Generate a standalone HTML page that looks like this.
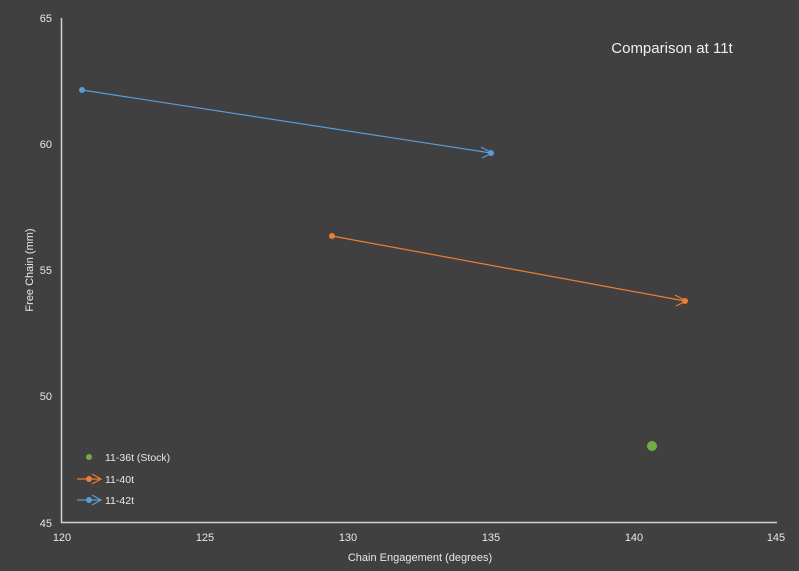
<!DOCTYPE html>
<html><head><style>body{margin:0;background:#404040}</style></head><body>
<svg width="799" height="571" viewBox="0 0 799 571" xmlns="http://www.w3.org/2000/svg" style="display:block;font-family:'Liberation Sans',sans-serif">
<rect width="799" height="571" fill="#404040"/>
<line x1="61.5" y1="18" x2="61.5" y2="523" stroke="#d0d0d0" stroke-width="1.5"/>
<line x1="61" y1="522.5" x2="777" y2="522.5" stroke="#d0d0d0" stroke-width="1.5"/>
<g fill="#e8e8e8" font-size="11" text-anchor="end">
<text x="52" y="22">65</text><text x="52" y="148">60</text><text x="52" y="274">55</text><text x="52" y="400">50</text><text x="52" y="527">45</text>
</g>
<g fill="#e8e8e8" font-size="11" text-anchor="middle">
<text x="62" y="541">120</text><text x="205" y="541">125</text><text x="348" y="541">130</text><text x="491" y="541">135</text><text x="634" y="541">140</text><text x="776" y="541">145</text>
</g>
<text x="420" y="561" fill="#e8e8e8" font-size="11" text-anchor="middle">Chain Engagement  (degrees)</text>
<text transform="translate(33,270) rotate(-90)" fill="#e8e8e8" font-size="11" text-anchor="middle">Free Chain (mm)</text>
<text x="672" y="53" fill="#f0f0f0" font-size="15" text-anchor="middle">Comparison at 11t</text>
<line x1="82" y1="90" x2="491" y2="153" stroke="#5b9bd5" stroke-width="1.2"/>
<circle cx="82" cy="90" r="3" fill="#5b9bd5"/><circle cx="491" cy="153" r="3" fill="#5b9bd5"/>
<path d="M481 147 L492 153 L482 158" fill="none" stroke="#5b9bd5" stroke-width="1.2"/>
<line x1="332" y1="236" x2="685" y2="301" stroke="#ed7d31" stroke-width="1.2"/>
<circle cx="332" cy="236" r="3" fill="#ed7d31"/><circle cx="685" cy="301" r="3" fill="#ed7d31"/>
<path d="M675 295 L686 301 L676 306" fill="none" stroke="#ed7d31" stroke-width="1.2"/>
<circle cx="652" cy="446" r="5" fill="#70ad47"/>
<circle cx="89" cy="457" r="3" fill="#70ad47"/>
<text x="105" y="461" fill="#e8e8e8" font-size="10.5">11-36t (Stock)</text>
<line x1="77" y1="479" x2="100" y2="479" stroke="#ed7d31" stroke-width="1.2"/><circle cx="89" cy="479" r="3" fill="#ed7d31"/>
<path d="M92 474 L101 479 L92 484" fill="none" stroke="#ed7d31" stroke-width="1.2"/>
<text x="105" y="483" fill="#e8e8e8" font-size="10.5">11-40t</text>
<line x1="77" y1="500" x2="100" y2="500" stroke="#5b9bd5" stroke-width="1.2"/><circle cx="89" cy="500" r="3" fill="#5b9bd5"/>
<path d="M92 495 L101 500 L92 505" fill="none" stroke="#5b9bd5" stroke-width="1.2"/>
<text x="105" y="504" fill="#e8e8e8" font-size="10.5">11-42t</text>
</svg>
</body></html>
